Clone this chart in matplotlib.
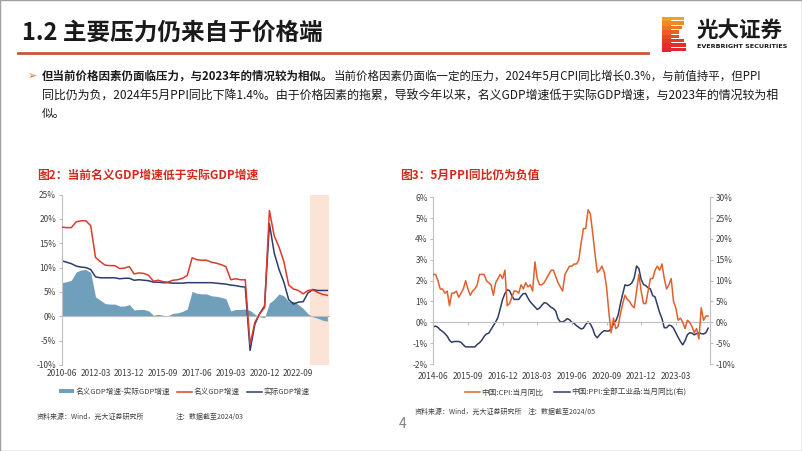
import matplotlib
matplotlib.use("Agg")
import matplotlib.pyplot as plt
from matplotlib.patches import Rectangle
from matplotlib.lines import Line2D
import numpy as np

plt.rcParams['font.family'] = ['Noto Sans CJK SC', 'DejaVu Sans']
plt.rcParams['axes.unicode_minus'] = False

W, H = 802, 451

# === 图2 数据：季度累计同比(%)，2010-06 至 2024-03 ===
gdp_ticks = ["2010-06", "2012-03", "2013-12", "2015-09", "2017-06", "2019-03", "2020-12", "2022-09"]
nominal_gdp = [18.3, 18.2, 18.2, 19.4, 19.6, 19.6, 18.6,
               12.1, 11.2, 10.5, 10.4, 10.4, 9.8, 9.9, 10.2,
               8.7, 8.9, 8.8, 8.4, 7.2, 7.4, 7.1, 7.0,
               7.4, 7.5, 7.8, 8.4, 12.0, 11.6, 11.5, 11.5,
               11.1, 10.9, 10.6, 10.2, 7.5, 7.7, 7.5, 7.5,
               -5.8, -1.2, 0.5, 1.8, 21.7, 16.5, 14.2, 11.2,
               6.4, 5.6, 5.3, 4.6, 5.3, 5.4, 4.9, 4.5, 4.3]
real_gdp = [11.4, 11.1, 10.8, 10.3, 10.1, 10.0, 9.6,
            8.1, 7.9, 7.9, 7.9, 7.9, 7.7, 7.8, 7.8,
            7.4, 7.5, 7.4, 7.3, 7.0, 7.0, 6.9, 6.9,
            6.8, 6.8, 6.8, 6.9, 6.9, 6.9, 6.9, 6.9,
            6.9, 6.8, 6.7, 6.6, 6.4, 6.3, 6.1, 6.0,
            -7.0, -1.6, 0.6, 2.1, 19.0, 13.0, 9.6, 7.0,
            3.4, 2.5, 2.9, 3.0, 4.8, 5.5, 5.3, 5.3, 5.3]
gdp_gap = [6.9, 7.1, 7.4, 9.1, 9.5, 9.6, 9.0,
           4.0, 3.3, 2.6, 2.5, 2.5, 2.1, 2.1, 2.4,
           1.3, 1.4, 1.4, 1.1, 0.2, 0.4, 0.2, 0.1,
           0.6, 0.7, 1.0, 1.5, 5.1, 4.7, 4.6, 4.6,
           4.2, 4.1, 3.9, 3.6, 1.1, 1.4, 1.4, 1.5,
           1.2, 0.4, -0.1, -0.3, 2.7, 3.5, 4.6, 4.2,
           3.0, 3.1, 2.4, 1.6, 0.5, -0.1, -0.4, -0.8, -1.0]

# === 图3 数据：月度同比(%)，2014-06 至 2024-05 ===
price_ticks = ["2014-06", "2015-09", "2016-12", "2018-03", "2019-06", "2020-09", "2021-12", "2023-03"]
cpi = [2.3, 2.3, 2.0, 1.6, 1.6, 1.4, 1.5,
       0.8, 1.4, 1.4, 1.5, 1.2, 1.4, 1.6, 2.0, 1.6, 1.3, 1.5, 1.6,
       1.8, 2.3, 2.3, 2.3, 2.0, 1.9, 1.8, 1.3, 1.9, 2.1, 2.3, 2.1,
       2.5, 0.8, 0.9, 1.2, 1.5, 1.5, 1.4, 1.8, 1.6, 1.9, 1.7, 1.8,
       1.5, 2.9, 2.1, 1.8, 1.8, 1.9, 2.1, 2.3, 2.5, 2.5, 2.2, 1.9,
       1.7, 1.5, 2.3, 2.5, 2.7, 2.7, 2.8, 2.8, 3.0, 3.8, 4.5, 4.5,
       5.4, 5.2, 4.3, 3.3, 2.4, 2.5, 2.7, 2.4, 1.7, 0.5, -0.5, 0.2,
       -0.3, -0.2, 0.4, 0.9, 1.3, 1.1, 1.0, 0.8, 0.7, 1.5, 2.3, 1.5,
       0.9, 0.9, 1.5, 2.1, 2.1, 2.5, 2.7, 2.5, 2.8, 2.1, 1.6, 1.8,
       2.1, 1.0, 0.7, 0.1, 0.2, 0.0, -0.3, 0.1, 0.0, -0.2, -0.5, -0.3,
       -0.8, 0.7, 0.1, 0.3, 0.3]
ppi = [-1.1, -0.9, -1.2, -1.8, -2.2, -2.7, -3.3,
       -4.3, -4.8, -4.6, -4.6, -4.6, -4.8, -5.4, -5.9, -5.9, -5.9, -5.9, -5.9,
       -5.3, -4.9, -4.3, -3.4, -2.8, -2.6, -1.7, -0.8, 0.1, 1.2, 3.3, 5.5,
       6.9, 7.8, 7.6, 6.4, 5.5, 5.5, 5.5, 6.3, 6.9, 6.9, 5.8, 4.9,
       4.3, 3.7, 3.1, 3.4, 4.1, 4.7, 4.6, 4.1, 3.6, 3.3, 2.7, 0.9,
       0.1, 0.1, 0.4, 0.9, 0.6, 0.0, -0.3, -0.8, -1.2, -1.6, -1.4, -0.5,
       0.1, -0.4, -1.5, -3.1, -3.7, -3.0, -2.4, -2.0, -2.1, -2.1, -1.5, -0.4,
       0.3, 1.7, 4.4, 6.8, 9.0, 8.8, 9.0, 9.5, 10.7, 13.5, 12.9, 10.3,
       9.1, 8.8, 8.3, 8.0, 6.4, 6.1, 4.2, 2.3, 0.9, -1.3, -1.3, -0.7,
       -0.8, -1.4, -2.5, -3.6, -4.6, -5.4, -4.4, -3.0, -2.5, -2.6, -3.0, -2.7,
       -2.5, -2.7, -2.8, -2.5, -1.4]

RED = "#DD3A2C"
NAVY = "#2C3D6B"
FILL = "#6F9FBA"
SHADE = "#FBE4D6"
CPI_C = "#E0602E"
PPI_C = "#2F3C68"
AX_C = "#BFBFBF"
TXT_C = "#404040"


def fx(x):
    return x / W


def fy(y):
    return 1 - y / H


def px_rect(x0, y0, x1, y1):
    return [fx(x0), fy(y1), (x1 - x0) / W, (y1 - y0) / H]


fig = plt.figure(figsize=(W / 100, H / 100), dpi=100)

# 边框
fig.patches.append(Rectangle((0, 0), 1, 1, transform=fig.transFigure, fill=False,
                             edgecolor="#A0A0A0", lw=1.0))

# 标题
fig.text(fx(22), fy(33), "1.2 主要压力仍来自于价格端", fontsize=17, weight="bold",
         color="#1A1A1A", va="center", ha="left")
fig.add_artist(Line2D([fx(18), fx(648)], [fy(53), fy(53)], color="#C8553A", lw=2.0))

# logo
logo_cols = ["#F5A020", "#F28A22", "#EF7424", "#EC5E26", "#E94A28", "#E63A2A", "#E32E2C", "#E0262E"]
for k, c in enumerate(logo_cols):
    y0 = 17 + k * 4.4
    right = [684, 684, 682, 679, 679, 684, 686, 686][k]
    fig.patches.append(Rectangle((fx(662), fy(y0 + 4.4)), (right - 662) / W, 4.4 / H,
                                 transform=fig.transFigure, color=c, lw=0))
    fig.patches.append(Rectangle((fx(671), fy(y0 + 4.4)), (right - 671) / W, 1.0 / H,
                                 transform=fig.transFigure, color="white", lw=0))
fig.text(fx(697), fy(30), "光大证券", fontsize=15.5, weight="bold", color="#1A1A1A",
         va="center", ha="left")
fig.text(fx(697), fy(46), "EVERBRIGHT SECURITIES", fontsize=4.6, weight="bold",
         color="#1A1A1A", va="center", ha="left", family="DejaVu Sans")

# 正文
fig.text(fx(28), fy(76), "➢", fontsize=8, color="#E07030", va="center", ha="left",
         family=["DejaVu Sans"])
bold_part = fig.text(fx(42), fy(76), "但当前价格因素仍面临压力，与2023年的情况较为相似。",
                     fontsize=8.25, weight="bold", color="#1A1A1A", va="center", ha="left")
fig.canvas.draw()
bb = bold_part.get_window_extent(fig.canvas.get_renderer())
fig.text(bb.x1 / W, fy(76),
         "当前价格因素仍面临一定的压力，2024年5月CPI同比增长0.3%，与前值持平，但PPI",
         fontsize=8.25, color="#1A1A1A", va="center", ha="left")
fig.text(fx(42), fy(96),
         "同比仍为负，2024年5月PPI同比下降1.4%。由于价格因素的拖累，导致今年以来，名义GDP增速低于实际GDP增速，与2023年的情况较为相",
         fontsize=8.6, color="#1A1A1A", va="center", ha="left")
fig.text(fx(42), fy(114), "似。", fontsize=8.5, color="#1A1A1A", va="center", ha="left")

# 图标题
fig.text(fx(37), fy(175), "图2：当前名义GDP增速低于实际GDP增速", fontsize=8.5, weight="bold",
         color="#D42A1E", va="center", ha="left")
fig.text(fx(400), fy(175), "图3：5月PPI同比仍为负值", fontsize=8.5, weight="bold",
         color="#D42A1E", va="center", ha="left")

# === 图2 ===
q = np.arange(len(nominal_gdp))
ax1 = fig.add_axes(px_rect(61.7, 194.5, 61.7 + 55.4 * 4.83, 365))
ax1.axvspan(51.4, 55.4, color=SHADE, lw=0, zorder=0)
ax1.fill_between(q, gdp_gap, 0, color=FILL, lw=0, zorder=1,
                 label="名义GDP增速-实际GDP增速")
ax1.plot(q, nominal_gdp, color=RED, lw=1.1, zorder=3, label="名义GDP增速")
ax1.plot(q, real_gdp, color=NAVY, lw=1.1, zorder=2, label="实际GDP增速")
ax1.set_xlim(0, 55.4)
ax1.set_ylim(-10, 25)
ax1.set_yticks(range(-10, 30, 5))
ax1.set_yticklabels([f"{v}%" for v in range(-10, 30, 5)])
ax1.set_xticks(range(0, 56, 7))
ax1.set_xticklabels(gdp_ticks)
for s in ["top", "right"]:
    ax1.spines[s].set_visible(False)
ax1.spines["left"].set_color(AX_C)
ax1.spines["bottom"].set_position(("data", 0))
ax1.spines["bottom"].set_color(AX_C)
ax1.set_facecolor("none")
ax1.tick_params(axis="y", length=2, color=AX_C, labelsize=6, labelcolor=TXT_C, pad=2)
ax1.tick_params(axis="x", length=0, labelsize=6, labelcolor=TXT_C, pad=38)

fig.legend(handles=ax1.get_legend_handles_labels()[0], loc="center left",
           bbox_to_anchor=(fx(52), fy(392)), ncol=3, frameon=False, fontsize=5.5,
           handlelength=2.0, handleheight=0.5, handletextpad=0.2, columnspacing=0.9,
           labelcolor=TXT_C)
fig.text(fx(37), fy(417), "资料来源：Wind，光大证券研究所", fontsize=5, color=TXT_C,
         va="center", ha="left")
fig.text(fx(176), fy(417), "注：数据截至2024/03", fontsize=5, color=TXT_C,
         va="center", ha="left")

# === 图3 ===
m = np.arange(len(cpi))
ax2 = fig.add_axes(px_rect(433.3, 197.3, 710, 364))
ax2.plot(m, cpi, color=CPI_C, lw=1.1, zorder=3, label="中国:CPI:当月同比")
ax2.set_xlim(0, 119.8)
ax2.set_ylim(-2, 6)
ax2.set_yticks(range(-2, 7))
ax2.set_yticklabels([f"{v}%" for v in range(-2, 7)])
ax2.set_xticks(range(0, 120, 15))
ax2.set_xticklabels(price_ticks)
ax2r = ax2.twinx()
ax2r.plot(m, ppi, color=PPI_C, lw=1.1, zorder=2, label="中国:PPI:全部工业品:当月同比(右)")
ax2r.set_ylim(-10, 30)
ax2r.set_yticks(range(-10, 35, 5))
ax2r.set_yticklabels([f"{v}%" for v in range(-10, 35, 5)])
ax2.set_zorder(ax2r.get_zorder() + 1)
ax2.set_facecolor("none")
for a in (ax2, ax2r):
    a.spines["top"].set_visible(False)
    a.spines["left"].set_color(AX_C)
    a.spines["right"].set_color(AX_C)
    a.spines["bottom"].set_color(AX_C)
ax2.spines["bottom"].set_position(("data", 0))
ax2r.spines["bottom"].set_visible(False)
ax2.spines["right"].set_visible(False)
ax2r.spines["left"].set_visible(False)
ax2.tick_params(axis="y", length=2, color=AX_C, labelsize=6, labelcolor=TXT_C, pad=2)
ax2r.tick_params(axis="y", length=2, color=AX_C, labelsize=6, labelcolor=TXT_C, pad=2)
ax2.tick_params(axis="x", length=2, color=AX_C, labelsize=6, labelcolor=TXT_C, pad=34)

h1, l1 = ax2.get_legend_handles_labels()
h2, l2 = ax2r.get_legend_handles_labels()
fig.legend(handles=h1 + h2, loc="center left", bbox_to_anchor=(fx(458), fy(393)), ncol=2,
           frameon=False, fontsize=5.5, handlelength=2.0, handletextpad=0.2,
           columnspacing=1.4, labelcolor=TXT_C)
fig.text(fx(415), fy(412), "资料来源：Wind，光大证券研究所", fontsize=5, color=TXT_C,
         va="center", ha="left")
fig.text(fx(528), fy(412), "注：数据截至2024/05", fontsize=5, color=TXT_C,
         va="center", ha="left")

fig.text(fx(403), fy(424), "4", fontsize=10, color="#7F7F7F", va="center", ha="center")

fig.savefig("out.png", dpi=100)
